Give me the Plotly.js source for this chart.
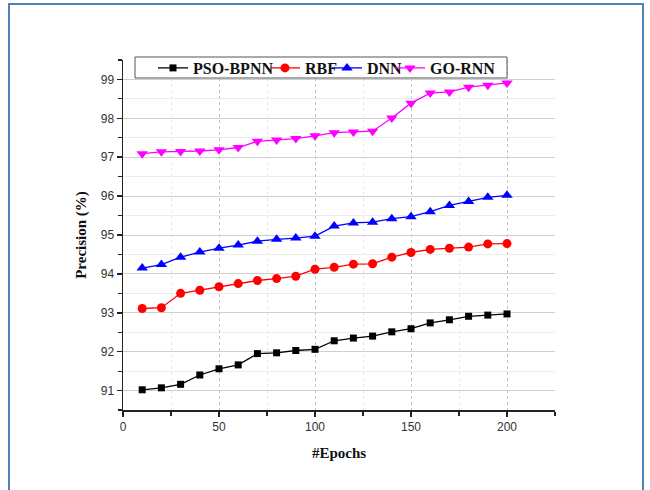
<!DOCTYPE html>
<html>
<head>
<meta charset="utf-8">
<script src="https://cdn.plot.ly/plotly-3.0.1.min.js"></script>
<style>
html,body{margin:0;padding:0;width:650px;height:490px;overflow:hidden;background:#fff;}
#chart{position:absolute;left:0;top:0;width:650px;height:490px;}
#frame{position:absolute;left:8px;top:3px;width:632px;height:520px;border:2px solid #4F81BD;pointer-events:none;}
</style>
</head>
<body>
<div id="chart"></div>
<div id="frame"></div>
<script>
var epochs = [10,20,30,40,50,60,70,80,90,100,110,120,130,140,150,160,170,180,190,200];
var psoBpnn = [91.02,91.07,91.16,91.40,91.56,91.66,91.95,91.97,92.03,92.06,92.28,92.35,92.40,92.51,92.59,92.74,92.82,92.91,92.94,92.97];
var rbf = [93.11,93.13,93.50,93.58,93.67,93.75,93.83,93.88,93.94,94.12,94.17,94.25,94.26,94.43,94.55,94.63,94.66,94.69,94.77,94.78];
var dnn = [94.15,94.24,94.43,94.56,94.66,94.74,94.84,94.89,94.92,94.97,95.23,95.31,95.33,95.42,95.47,95.60,95.76,95.86,95.97,96.02];
var goRnn = [97.09,97.14,97.15,97.16,97.19,97.25,97.41,97.44,97.48,97.55,97.63,97.65,97.67,98.01,98.39,98.65,98.68,98.80,98.85,98.91];
var seriesNames = ['PSO-BPNN','RBF','DNN','GO-RNN'];
var xTicks = [0,50,100,150,200];
var yTicks = [91,92,93,94,95,96,97,98,99];

var plotL = 123, plotW = 432, plotB = 410, plotH = 350;
function px2x(p){ return (p - plotL) / plotW; }
function px2y(p){ return (plotB - p) / plotH; }

function tr(y, name, color, symbol, size, leg){
  return {x: epochs, y: y, name: name, type:'scatter', mode:'lines+markers',
    line:{color:color, width:1.3},
    marker:{color:color, symbol:symbol, size:size}, legend: leg};
}
var data = [
  tr(psoBpnn, seriesNames[0], '#000000', 'square', 7, 'legend'),
  tr(rbf, seriesNames[1], '#ff0000', 'circle', 9, 'legend2'),
  tr(dnn, seriesNames[2], '#0000ff', 'triangle-up', 10, 'legend3'),
  tr(goRnn, seriesNames[3], '#ff00ff', 'triangle-down', 10, 'legend4')
];
var tickFont = {family:'Liberation Sans, Arial, sans-serif', size:12, color:'#333333'};
var titleFont = {family:'Liberation Serif, Times New Roman, serif', size:15, color:'#111111', weight:'bold'};
var legFont = {family:'Liberation Serif, Times New Roman, serif', size:16, color:'#111111', weight:'bold'};
function leg(textStart){
  return {orientation:'h', x:px2x(textStart - 40), y:px2y(68), xanchor:'left', yanchor:'middle',
    bgcolor:'rgba(0,0,0,0)', borderwidth:0, font:legFont, itemwidth:30};
}
var layout = {
  width:650, height:490,
  margin:{l:plotL, r:650-plotL-plotW, t:plotB-plotH, b:490-plotB},
  paper_bgcolor:'rgba(0,0,0,0)', plot_bgcolor:'#ffffff',
  showlegend:true,
  legend: leg(193), legend2: leg(305), legend3: leg(367), legend4: leg(430),
  shapes:[{type:'rect', xref:'paper', yref:'paper', layer:'above',
    x0:px2x(135), x1:px2x(507), y0:px2y(78), y1:px2y(57),
    fillcolor:'#ffffff', line:{color:'#555555', width:1}}],
  xaxis:{range:[0,225], tickvals:xTicks, ticktext:xTicks.map(String),
    showline:true, linecolor:'#222222', linewidth:1.5,
    ticks:'outside', ticklen:5, tickwidth:1.5, tickcolor:'#222222',
    showgrid:true, gridcolor:'#c4c4c4', gridwidth:1, griddash:'dot',
    minor:{dtick:25, tick0:0, ticks:'outside', ticklen:4, tickcolor:'#222222', tickwidth:1.2, showgrid:true, gridcolor:'#e6e6e6', griddash:'dot'},
    zeroline:false, tickfont:tickFont,
    title:{text:'#Epochs', font:titleFont, standoff:14}},
  yaxis:{range:[90.5,99.5], tickvals:yTicks, ticktext:yTicks.map(String),
    showline:true, linecolor:'#222222', linewidth:1.5,
    ticks:'outside', ticklen:5, tickwidth:1.5, tickcolor:'#222222',
    showgrid:true, gridcolor:'#cfcfcf', gridwidth:1,
    minor:{dtick:0.5, tick0:90.5, ticks:'outside', ticklen:4, tickcolor:'#222222', tickwidth:1.2, showgrid:true, gridcolor:'#ececec'},
    zeroline:false, tickfont:tickFont,
    title:{text:'Precision (%)', font:titleFont, standoff:10}}
};
Plotly.newPlot('chart', data, layout, {staticPlot:true, displayModeBar:false});
</script>
</body>
</html>
